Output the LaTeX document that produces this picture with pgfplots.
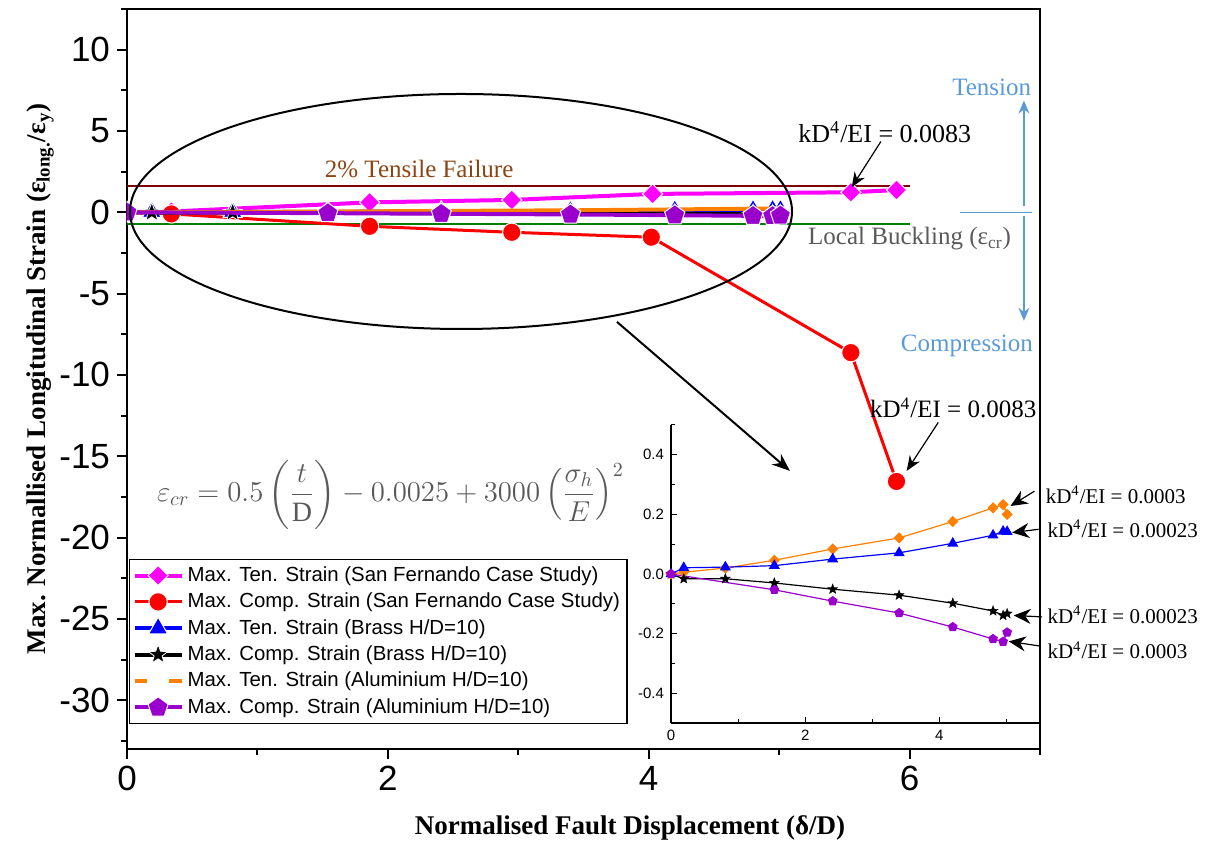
\documentclass[border=0pt]{standalone}
\usepackage{pgfplots}
\usepackage{pgfplotstable}
\pgfplotsset{compat=1.18}
\usepackage{amsmath}
\usepackage{fontspec}
\setmainfont{Liberation Serif}
\newfontfamily\arial{Liberation Sans}
\usetikzlibrary{arrows.meta}

\definecolor{sfmag}{RGB}{255,0,255}
\definecolor{alorange}{RGB}{255,128,0}
\definecolor{alpurple}{RGB}{153,0,204}
\definecolor{failtext}{RGB}{139,69,19}
\definecolor{failline}{RGB}{128,0,0}
\definecolor{buckgreen}{RGB}{0,128,0}
\definecolor{darkgray}{RGB}{89,89,89}
\definecolor{tcblue}{RGB}{91,155,213}

% filled five-pointed star
\pgfdeclareplotmark{fstar}{%
  \pgfpathmoveto{\pgfqpointpolar{90}{\pgfplotmarksize}}%
  \pgfpathlineto{\pgfqpointpolar{126}{0.42\pgfplotmarksize}}%
  \pgfpathlineto{\pgfqpointpolar{162}{\pgfplotmarksize}}%
  \pgfpathlineto{\pgfqpointpolar{198}{0.42\pgfplotmarksize}}%
  \pgfpathlineto{\pgfqpointpolar{234}{\pgfplotmarksize}}%
  \pgfpathlineto{\pgfqpointpolar{270}{0.42\pgfplotmarksize}}%
  \pgfpathlineto{\pgfqpointpolar{306}{\pgfplotmarksize}}%
  \pgfpathlineto{\pgfqpointpolar{342}{0.42\pgfplotmarksize}}%
  \pgfpathlineto{\pgfqpointpolar{18}{\pgfplotmarksize}}%
  \pgfpathlineto{\pgfqpointpolar{54}{0.42\pgfplotmarksize}}%
  \pgfpathclose
  \pgfusepathqfillstroke}

% San Fernando case study
\pgfplotstableread{
x y
0 0
0.34 0.05
1.86 0.61
2.95 0.76
4.03 1.13
5.55 1.23
5.90 1.37
}\sfTen
\pgfplotstableread{
x y
0 0
0.34 -0.10
1.86 -0.86
2.95 -1.23
4.02 -1.53
5.55 -8.63
5.90 -16.55
}\sfComp
% Brass, H/D = 10
\pgfplotstableread{
x y
0 0
0.19 0.021
0.81 0.023
1.54 0.028
2.41 0.050
3.40 0.071
4.20 0.103
4.80 0.130
4.95 0.143
5.01 0.142
}\brTen
\pgfplotstableread{
x y
0 0
0.19 -0.016
0.81 -0.016
1.54 -0.030
2.41 -0.051
3.40 -0.071
4.20 -0.098
4.80 -0.124
4.95 -0.139
5.01 -0.133
}\brComp
% Aluminium, H/D = 10
\pgfplotstableread{
x y
0 0
0.19 0.006
0.81 0.020
1.54 0.046
2.41 0.084
3.40 0.121
4.20 0.176
4.80 0.222
4.95 0.233
5.01 0.200
}\alTen
\pgfplotstableread{
x y
0 0
1.54 -0.053
2.41 -0.091
3.40 -0.131
4.20 -0.178
4.80 -0.218
4.95 -0.227
5.01 -0.196
}\alComp

\begin{document}
\begin{tikzpicture}
\path[use as bounding box] (-63.5pt,-49.5pt) rectangle (539pt,374.5pt);

\begin{axis}[
  at={(0pt,0pt)}, anchor=south west,
  scale only axis, width=456.5pt, height=370pt,
  xmin=0, xmax=7, ymin=-33, ymax=12.5,
  xtick={0,2,4,6}, minor xtick={1,3,5,7},
  xticklabels={0,2,4,6},
  ytick={-30,-25,-20,-15,-10,-5,0,5,10},
  minor ytick={-32.5,-27.5,-22.5,-17.5,-12.5,-7.5,-2.5,2.5,7.5,12.5},
  yticklabels={-30,-25,-20,-15,-10,-5,0,5,10},
  tick align=outside, tick pos=left,
  major tick length=5pt, minor tick length=3pt,
  every tick/.style={black, line width=1pt},
  axis line style={line width=1.3pt},
  tick label style={font=\arial\fontsize{17.5}{18}\selectfont},
  xlabel={Normalised Fault Displacement (δ/D)},
  ylabel={Max. Normallised Longitudinal Strain (ε\textsubscript{long.}/ε\textsubscript{y})},
  label style={font=\bfseries\fontsize{13.5}{14}\selectfont},
  xlabel style={at={(axis description cs:0.551,-0.107)}, anchor=center},
  ylabel style={at={(axis description cs:-0.095,0.5)}, anchor=center},
  clip mode=individual, clip marker paths=true,
  legend style={at={(0.002,0.257)}, anchor=north west,
    font=\arial\fontsize{10.2}{12}\selectfont, draw=black, line width=0.8pt,
    inner sep=1.5pt, row sep=0.3pt, cells={anchor=west}},
  legend image code/.code={
    \draw[mark repeat=2,mark phase=2,#1] plot coordinates {(0pt,0pt) (11.75pt,0pt) (23.5pt,0pt)};
  },
]
% reference strain limits
\addplot[failline, line width=1pt, forget plot] coordinates {(0,1.6) (6,1.6)};
\addplot[buckgreen, line width=1pt, forget plot] coordinates {(0,-0.72) (6,-0.72)};

\addplot[sfmag, line width=2pt, mark=diamond*, mark size=5pt,
  mark options={xscale=1.35, draw=white, line width=0.5pt, fill=sfmag}]
  table {\sfTen};
\addlegendentry{Max. Ten. Strain (San Fernando Case Study)}
\addplot[red, line width=1.5pt, mark=*, mark size=4.6pt,
  mark options={draw=white, line width=0.5pt, fill=red}]
  table {\sfComp};
\addlegendentry{Max. Comp. Strain (San Fernando Case Study)}
\addplot[blue, line width=2pt, mark=triangle*, mark size=5.5pt,
  mark options={draw=white, line width=0.5pt, fill=blue}]
  table {\brTen};
\addlegendentry{Max. Ten. Strain (Brass H/D=10)}
\addplot[black, line width=2pt, mark=fstar, mark size=5pt,
  mark options={draw=white, line width=0.4pt, fill=black}]
  table {\brComp};
\addlegendentry{Max. Comp. Strain (Brass H/D=10)}
\addlegendimage{alorange, line width=2pt, mark=square*, mark size=4.5pt,
  mark options={draw=white, fill=white}}
\addlegendentry{Max. Ten. Strain (Aluminium H/D=10)}
\addplot[alorange, line width=2pt, forget plot] table {\alTen};
\addplot[alpurple, line width=2pt, mark=pentagon*, mark size=5.3pt,
  mark options={draw=white, line width=0.5pt, fill=alpurple}]
  table {\alComp};
\addlegendentry{Max. Comp. Strain (Aluminium H/D=10)}

% annotations
\node[failtext, font=\fontsize{12.5}{13}\selectfont] at (axis cs:2.24,2.66) {2\% Tensile Failure};
\node[darkgray, font=\fontsize{12.5}{13}\selectfont] at (axis cs:6.0,-1.64) {Local Buckling (ε\textsubscript{cr})};
\node[font=\fontsize{13}{13}\selectfont] at (axis cs:5.81,4.93) {kD\textsuperscript{4}/EI = 0.0083};
\draw[line width=0.6pt, -{Stealth[length=7.5pt,width=6pt]}] (axis cs:5.78,4.35) -- (axis cs:5.556,1.54);
\node[anchor=east, inner sep=0pt, font=\fontsize{12.5}{13}\selectfont] at (axis cs:6.975,-12.03) {kD\textsuperscript{4}/EI = 0.0083};
\draw[line width=0.6pt, -{Stealth[length=7.5pt,width=6pt]}] (axis cs:6.22,-12.92) -- (axis cs:5.978,-15.9);

\node[tcblue, font=\fontsize{12.5}{13}\selectfont] at (axis cs:6.63,7.7) {Tension};
\node[tcblue, font=\fontsize{12.5}{13}\selectfont] at (axis cs:6.44,-8.2) {Compression};
\draw[tcblue, line width=0.7pt, -{Stealth[length=6.5pt,width=5.5pt]}] (axis cs:6.877,0.4) -- (axis cs:6.877,6.87);
\draw[tcblue, line width=0.7pt] (axis cs:6.387,0) -- (axis cs:6.936,0);
\draw[tcblue, line width=0.7pt, -{Stealth[length=6.5pt,width=5.5pt]}] (axis cs:6.877,-0.21) -- (axis cs:6.877,-6.67);

\draw[line width=1pt] (axis cs:2.561,0.05) ellipse [x radius=165.5pt, y radius=58.75pt];
\draw[line width=1pt, -{Stealth[length=9pt,width=7pt]}] (axis cs:3.757,-6.74) -- (axis cs:5.083,-15.9);

\node[darkgray, anchor=west, font=\fontsize{14}{14}\selectfont] at (axis cs:0.176,-17.35)
  {$\varepsilon_{cr} = 0.5\left(\dfrac{t}{\mathrm{D}}\right) - 0.0025 + 3000\left(\dfrac{\sigma_h}{E}\right)^{2}$};
\end{axis}

% enlarged view of the model-test results
\begin{axis}[
  at={(272pt,13pt)}, anchor=south west,
  scale only axis, width=184.5pt, height=149pt,
  xmin=0, xmax=5.5, ymin=-0.5, ymax=0.5,
  axis x line*=bottom, axis y line*=left,
  axis line style={-, line width=0.6pt},
  xtick={0,2,4}, minor xtick={1,3,5}, xticklabels={0,2,4},
  ytick={-0.4,-0.2,0,0.2,0.4}, minor ytick={-0.5,-0.3,-0.1,0.1,0.3,0.5},
  yticklabels={-0.4,-0.2,0.0,0.2,0.4},
  tick align=inside, major tick length=3pt, minor tick length=2pt,
  every tick/.style={black, line width=0.5pt},
  tick label style={font=\arial\fontsize{7.5}{8}\selectfont},
  clip=false,
]
\addplot[alorange, line width=0.6pt, mark=diamond*, mark size=2.4pt,
  mark options={xscale=1.3, fill=alorange}] table {\alTen};
\addplot[blue, line width=0.6pt, mark=triangle*, mark size=2.6pt,
  mark options={fill=blue}] table {\brTen};
\addplot[black, line width=0.6pt, mark=fstar, mark size=2.6pt,
  mark options={line width=0.2pt, fill=black}] table {\brComp};
\addplot[alpurple, line width=0.6pt, mark=pentagon*, mark size=2.2pt,
  mark options={fill=alpurple}] table {\alComp};

\node[anchor=west, inner sep=0pt, font=\fontsize{10.5}{11}\selectfont] at (axis cs:5.58,0.267) {kD\textsuperscript{4}/EI = 0.0003};
\draw[line width=0.6pt, -{Stealth[length=8.5pt,width=7.5pt]}] (axis cs:5.418,0.278) -- (axis cs:5.06,0.228);
\node[anchor=west, inner sep=0pt, font=\fontsize{10.5}{11}\selectfont] at (axis cs:5.607,0.152) {kD\textsuperscript{4}/EI = 0.00023};
\draw[line width=0.6pt, -{Stealth[length=8.5pt,width=7.5pt]}] (axis cs:5.48,0.15) -- (axis cs:5.085,0.139);
\node[anchor=west, inner sep=0pt, font=\fontsize{10.5}{11}\selectfont] at (axis cs:5.607,-0.137) {kD\textsuperscript{4}/EI = 0.00023};
\draw[line width=0.6pt, -{Stealth[length=8.5pt,width=7.5pt]}] (axis cs:5.53,-0.144) -- (axis cs:5.109,-0.139);
\node[anchor=west, inner sep=0pt, font=\fontsize{10.5}{11}\selectfont] at (axis cs:5.607,-0.256) {kD\textsuperscript{4}/EI = 0.0003};
\draw[line width=0.6pt, -{Stealth[length=8.5pt,width=7.5pt]}] (axis cs:5.507,-0.242) -- (axis cs:5.034,-0.226);
\end{axis}
\end{tikzpicture}
\end{document}
